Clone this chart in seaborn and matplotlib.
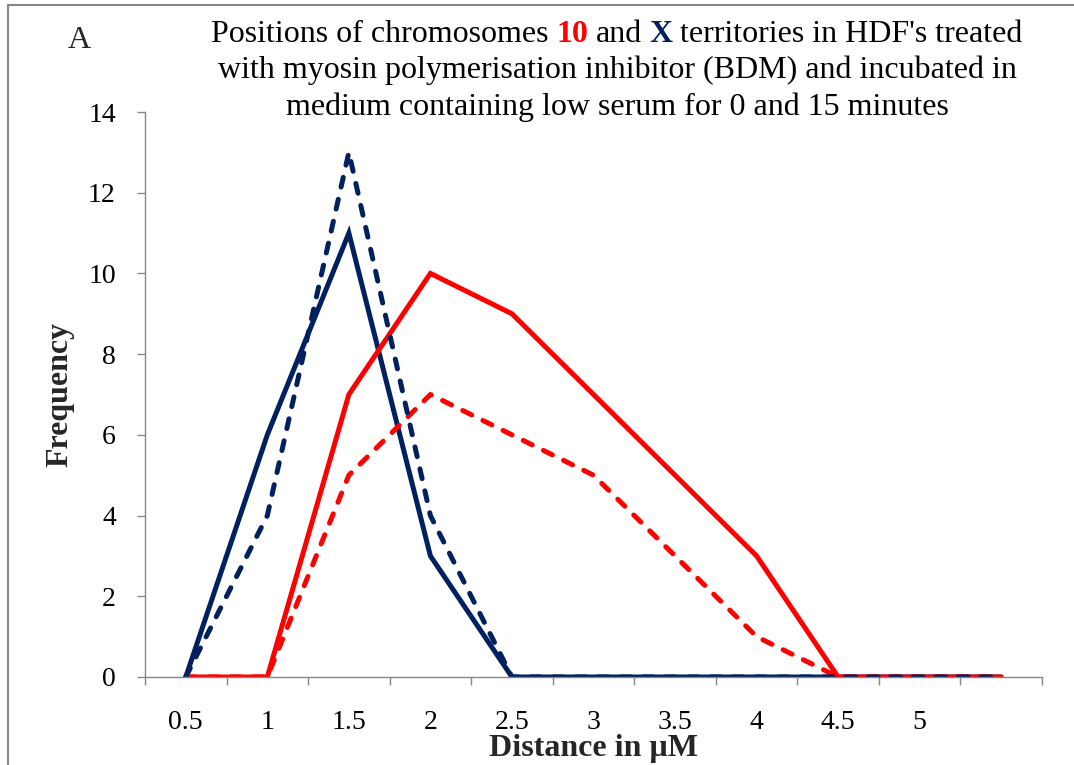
import pandas as pd
import matplotlib.pyplot as plt
import seaborn as sns
from matplotlib.patches import Rectangle
from matplotlib.offsetbox import TextArea, HPacker, VPacker, AnchoredOffsetbox

# --------------------------------
# DATA
# --------------------------------

distance = [0.5, 1.0, 1.5, 2.0, 2.5, 3.0, 3.5, 4.0, 4.5, 5.0, 5.5]
tick_labels = ["0.5", "1", "1.5", "2", "2.5", "3", "3.5", "4", "4.5", "5"]

chr_x_0min = [0, 6, 11, 3, 0, 0, 0, 0, 0, 0, 0]
chr_10_0min = [0, 0, 7, 10, 9, 7, 5, 3, 0, 0, 0]
chr_10_15min = [0, 0, 5, 7, 6, 5, 3, 1, 0, 0, 0]
chr_x_15min = [0, 4, 13, 4, 0, 0, 0, 0, 0, 0, 0]

series_names = ["X 0 min", "10 0 min", "10 15 min", "X 15 min"]
series_values = [chr_x_0min, chr_10_0min, chr_10_15min, chr_x_15min]

navy = "#002060"
red = "#FF0000"
palette = {"X 0 min": navy, "10 0 min": red, "10 15 min": red, "X 15 min": navy}
dashes = {"X 0 min": "", "10 0 min": "", "10 15 min": (2, 2.5), "X 15 min": (2, 2.5)}

df = pd.concat([
    pd.DataFrame({"distance": distance, "frequency": vals, "series": name})
    for name, vals in zip(series_names, series_values)
])

# --------------------------------
# STYLE
# --------------------------------

sns.set_theme(style="white")
plt.rcParams["font.family"] = "Liberation Serif"
grey = "#868686"

fig = plt.figure(figsize=(10.74, 7.65), dpi=100)
ax = fig.add_axes([145 / 1074, 1 - 677 / 765, (1042 - 145) / 1074, (677 - 112) / 765])

# --------------------------------
# LINES
# --------------------------------

sns.lineplot(
    data=df,
    x="distance",
    y="frequency",
    hue="series",
    style="series",
    hue_order=series_names,
    style_order=series_names,
    palette=palette,
    dashes=dashes,
    linewidth=3.6,
    legend=False,
    ax=ax
)

for line in ax.get_lines():
    line.set_dash_capstyle("round")
    line.set_solid_capstyle("round")
    line.set_solid_joinstyle("miter")

# --------------------------------
# AXES
# --------------------------------

ax.set_xlim(0.25, 5.75)
ax.set_ylim(0, 14)
ax.set_yticks(range(0, 15, 2))
ax.set_xticks(distance[:10])
ax.set_xticklabels(tick_labels)
ax.set_xticks([0.25 + 0.5 * i for i in range(12)], minor=True)

ax.tick_params(axis="x", which="major", length=0, pad=24, labelsize=20, colors="black")
ax.tick_params(axis="x", which="minor", length=6, width=1, color=grey, direction="out", bottom=True)
ax.tick_params(axis="y", length=6, width=1, color=grey, direction="out", left=True, pad=15,
               labelsize=20, labelcolor="black")

for side in ["top", "right"]:
    ax.spines[side].set_visible(False)
for side in ["left", "bottom"]:
    ax.spines[side].set_color(grey)
    ax.spines[side].set_linewidth(1)

ax.set_xlabel("Distance in µM", fontsize=23, fontweight="bold", labelpad=-1)
ax.set_ylabel("Frequency", fontsize=23, fontweight="bold", labelpad=10)

# --------------------------------
# TITLE (multi coloured)
# --------------------------------

title_size = 23
plain = dict(color="black", fontsize=title_size, family="Liberation Serif")

line1 = HPacker(children=[
    TextArea("Positions of chromosomes", textprops=plain),
    TextArea("10", textprops=dict(plain, color=red, fontweight="bold")),
    TextArea("and", textprops=plain),
    TextArea("X", textprops=dict(plain, color=navy, fontweight="bold")),
    TextArea("territories in HDF's treated", textprops=plain),
], align="baseline", pad=0, sep=5.5)

title_box = VPacker(children=[
    line1,
    TextArea("with myosin polymerisation inhibitor (BDM) and incubated in", textprops=plain),
    TextArea("medium containing low serum for 0 and 15 minutes", textprops=plain),
], align="center", pad=0, sep=5)

anchored = AnchoredOffsetbox(
    loc="upper center",
    child=title_box,
    bbox_to_anchor=(617 / 1074, 1 - 20 / 765),
    bbox_transform=fig.transFigure,
    frameon=False,
    pad=0,
    borderpad=0
)
ax.add_artist(anchored)

fig.text(68 / 1074, 1 - 40 / 765, "A", fontsize=title_size, va="center", ha="left")

# figure frame
fig.patches.append(Rectangle((8 / 1074, -0.1), 1.2, (760 / 765) + 0.1, transform=fig.transFigure,
                             fill=False, edgecolor=grey, linewidth=1.5))

fig.savefig("out.png", dpi=100)
